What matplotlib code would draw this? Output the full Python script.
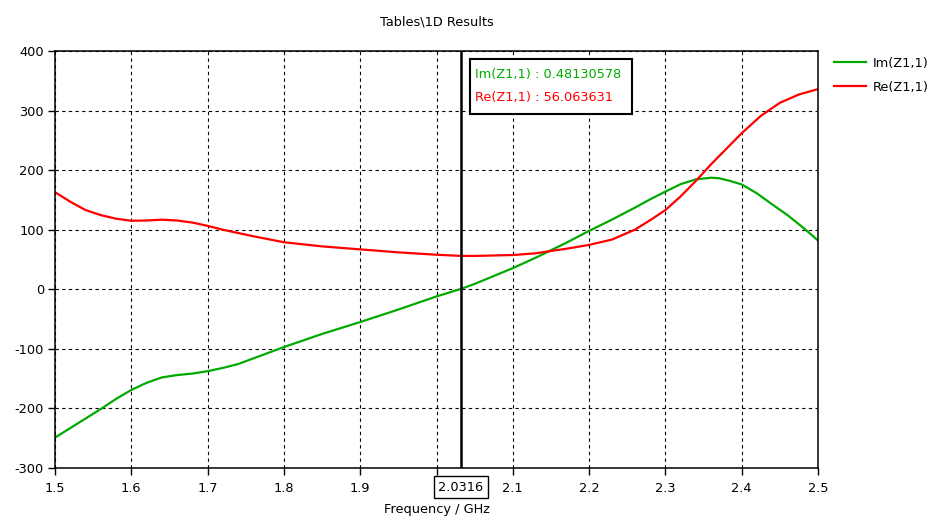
import matplotlib
matplotlib.use("Agg")
import matplotlib.pyplot as plt

plt.rcParams['font.family'] = ['DejaVu Sans']
plt.rcParams['axes.unicode_minus'] = False

freq_im = [1.5, 1.52, 1.54, 1.56, 1.58, 1.6, 1.62, 1.64, 1.66, 1.68, 1.70, 1.72,
           1.74, 1.76, 1.8, 1.85, 1.9, 1.95, 2.0, 2.0316, 2.05, 2.1, 2.13, 2.15,
           2.17, 2.2, 2.23, 2.26, 2.28, 2.3, 2.32, 2.34, 2.36, 2.37, 2.385, 2.4,
           2.42, 2.44, 2.46, 2.48, 2.5]
im_vals = [-249, -233, -217, -201, -184, -169, -157, -148, -144, -141.5, -137.5, -132,
           -125.5, -116, -97, -75, -55, -34, -12, 0.48, 9, 35.5, 53, 65.5,
           78, 98, 117, 137, 151, 164, 176.5, 184.5, 187.3, 186.5, 181.8, 176,
           161, 142.5, 124.5, 104, 82]

freq_re = [1.5, 1.52, 1.54, 1.56, 1.58, 1.6, 1.62, 1.64, 1.66, 1.68, 1.70, 1.72,
           1.74, 1.76, 1.8, 1.85, 1.9, 1.95, 2.0, 2.0316, 2.05, 2.1, 2.13, 2.15,
           2.17, 2.2, 2.23, 2.26, 2.28, 2.3, 2.32, 2.34, 2.36, 2.38, 2.4, 2.425,
           2.45, 2.475, 2.5]
re_vals = [163, 147, 133, 124.5, 118.5, 115, 115.5, 116.8, 115.5, 112, 106.5, 100,
           94.5, 89, 79, 72, 67, 62, 58, 56.06, 56, 57.5, 60.4, 64.3,
           68, 74.5, 83.5, 100, 116, 133, 156, 182, 210, 236, 262, 291,
           313, 327, 336]

x_ticks = [1.5, 1.6, 1.7, 1.8, 1.9, 2.0, 2.1, 2.2, 2.3, 2.4, 2.5]
x_tick_labels = ['1.5', '1.6', '1.7', '1.8', '1.9', '', '2.1', '2.2', '2.3', '2.4', '2.5']
y_ticks = [-300, -200, -100, 0, 100, 200, 300, 400]
cursor_x = 2.0316
cursor_label = '2.0316'
cursor_im = '0.48130578'
cursor_re = '56.063631'

FS = 9.3
W, H = 943, 525
fig = plt.figure(figsize=(W / 100, H / 100), dpi=100)
ax = fig.add_axes([55 / W, 1 - 468 / H, (818 - 55) / W, (468 - 51) / H])

green = '#00aa00'
red = '#ff0000'
ax.plot(freq_im, im_vals, color=green, lw=1.6, label='Im(Z1,1)')
ax.plot(freq_re, re_vals, color=red, lw=1.6, label='Re(Z1,1)')

ax.set_xlim(1.5, 2.5)
ax.set_ylim(-300, 400)
ax.set_xticks(x_ticks)
ax.set_xticklabels(x_tick_labels)
ax.set_yticks(y_ticks)
ax.grid(True, color='black', linestyle=(0, (3, 3)), lw=0.8)
for s in ax.spines.values():
    s.set_color('black')
    s.set_linewidth(1.1)
ax.tick_params(axis='x', labelsize=FS, length=5, pad=5, color='black', width=1)
ax.tick_params(axis='y', labelsize=FS, length=5, pad=3, color='black', width=1)

ax.axvline(cursor_x, color='black', lw=1.8)
ax.text(cursor_x, -0.046, cursor_label, transform=ax.get_xaxis_transform(),
        ha='center', va='center', fontsize=FS,
        bbox=dict(boxstyle='square,pad=0.35', fc='white', ec='black', lw=1))

# marker box
box_ax = ax.inset_axes([(470 - 55) / 763, (468 - 114) / 417,
                        (632 - 470) / 763, (114 - 59) / 417])
box_ax.set_xticks([])
box_ax.set_yticks([])
for s in box_ax.spines.values():
    s.set_linewidth(1.5)
box_ax.text(0.03, 0.72, 'Im(Z1,1) : ' + cursor_im, color=green, fontsize=FS,
            va='center', transform=box_ax.transAxes)
box_ax.text(0.03, 0.30, 'Re(Z1,1) : ' + cursor_re, color=red, fontsize=FS,
            va='center', transform=box_ax.transAxes)

fig.text(436.5 / W, 1 - 22 / H, 'Tables\\1D Results', ha='center', va='center', fontsize=FS)
fig.text(436.5 / W, 1 - 510 / H, 'Frequency / GHz', ha='center', va='center', fontsize=FS)

fig.legend(loc='upper left', bbox_to_anchor=(834 / W, 1 - 57 / H), frameon=False,
           fontsize=FS, handlelength=2.5, handletextpad=0.5, labelspacing=0.85,
           borderaxespad=0, borderpad=0)

fig.savefig('out.png', dpi=100)
